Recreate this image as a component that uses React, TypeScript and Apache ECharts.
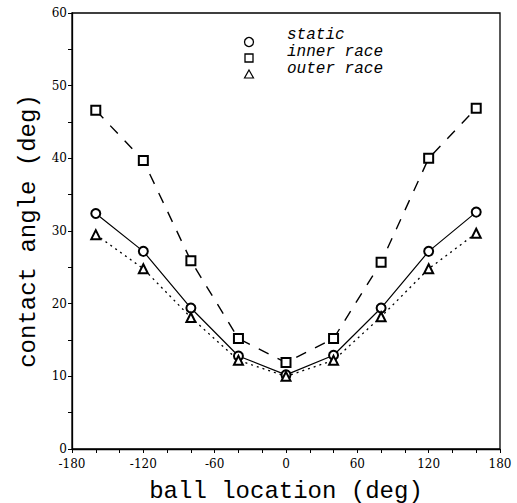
import React, { useEffect, useRef } from "react";
import * as echarts from "echarts";

const ballLocation = [-160, -120, -80, -40, 0, 40, 80, 120, 160];
const staticAngle = [32.4, 27.2, 19.4, 12.8, 10.2, 12.9, 19.4, 27.2, 32.6];
const innerRace = [46.6, 39.7, 25.9, 15.2, 11.9, 15.2, 25.7, 40.0, 46.9];
const outerRace = [29.5, 24.8, 18.1, 12.2, 10.0, 12.2, 18.2, 24.8, 29.7];
const legendNames = ["static", "inner race", "outer race"];

const serif = "DejaVu Serif";
const mono = "Liberation Mono";

export default function App() {
  const ref = useRef<HTMLDivElement>(null);
  useEffect(() => {
    if (!ref.current) return;
    const chart = echarts.init(ref.current, null, { renderer: "svg" });
    const pair = (vals: number[]) => ballLocation.map((x, i) => [x, vals[i]]);
    const common = {
      type: "line",
      symbolSize: 10,
      itemStyle: { color: "#000", borderWidth: 1.3 },
      z: 3,
    };
    const legendText = (i: number, y: number) => ({
      type: "text",
      x: 287,
      y,
      style: {
        text: legendNames[i],
        fontFamily: mono,
        fontStyle: "italic",
        fontSize: 16,
        lineHeight: 16,
        fill: "#000",
        verticalAlign: "middle",
      },
    });
    chart.setOption({
      animation: false,
      backgroundColor: "#fff",
      grid: {
        left: 72,
        right: 17,
        top: 13,
        bottom: 54,
        outerBoundsMode: "none",
        containLabel: false,
        show: true,
        borderColor: "#000",
        borderWidth: 1.3,
      },
      xAxis: {
        type: "value",
        min: -180,
        max: 180,
        interval: 60,
        name: "ball location (deg)",
        nameLocation: "middle",
        nameGap: 30,
        nameTextStyle: { fontFamily: mono, fontSize: 24, color: "#000" },
        axisLine: { onZero: false, lineStyle: { color: "#000", width: 1.3 } },
        axisTick: { inside: false, length: 4, lineStyle: { color: "#000" } },
        minorTick: { show: true, splitNumber: 3, length: 4, lineStyle: { color: "#000" } },
        splitLine: { show: false },
        axisLabel: { fontFamily: serif, fontSize: 12, color: "#000", margin: 9 },
      },
      yAxis: {
        type: "value",
        min: 0,
        max: 60,
        interval: 10,
        name: "contact angle (deg)",
        nameLocation: "middle",
        nameGap: 28,
        nameTextStyle: { fontFamily: mono, fontSize: 24, color: "#000" },
        axisLine: { show: true, onZero: false, lineStyle: { color: "#000", width: 1.3 } },
        axisTick: { show: true, inside: false, length: 4, lineStyle: { color: "#000" } },
        minorTick: { show: true, splitNumber: 2, length: 4, lineStyle: { color: "#000" } },
        splitLine: { show: false },
        axisLabel: { fontFamily: serif, fontSize: 12, color: "#000", margin: 5 },
      },
      series: [
        {
          ...common,
          name: legendNames[0],
          symbol: "emptyCircle",
          symbolSize: 9,
          lineStyle: { color: "#000", width: 1.2, type: "solid" },
          data: pair(staticAngle),
        },
        {
          ...common,
          name: legendNames[1],
          symbol: "emptyRect",
          symbolSize: 9,
          lineStyle: { color: "#000", width: 1.4, type: [11, 10] },
          data: pair(innerRace),
        },
        {
          ...common,
          name: legendNames[2],
          symbol: "emptyTriangle",
          symbolSize: 9,
          lineStyle: { color: "#000", width: 1.3, type: [2, 4] },
          data: pair(outerRace),
        },
      ],
      graphic: [
        { type: "circle", shape: { cx: 249, cy: 42, r: 4.5 }, style: { fill: "#fff", stroke: "#000", lineWidth: 1.3 } },
        { type: "rect", shape: { x: 245, y: 54, width: 8, height: 8 }, style: { fill: "#fff", stroke: "#000", lineWidth: 1.3 } },
        { type: "polygon", shape: { points: [[249, 70], [253.5, 78], [244.5, 78]] }, style: { fill: "#fff", stroke: "#000", lineWidth: 1.2 } },
        legendText(0, 35),
        legendText(1, 52),
        legendText(2, 69),
      ],
    });
    return () => chart.dispose();
  }, []);
  return (
    <div
      ref={ref}
      style={{ position: "fixed", left: 0, top: 0, width: 517, height: 503 }}
    />
  );
}
